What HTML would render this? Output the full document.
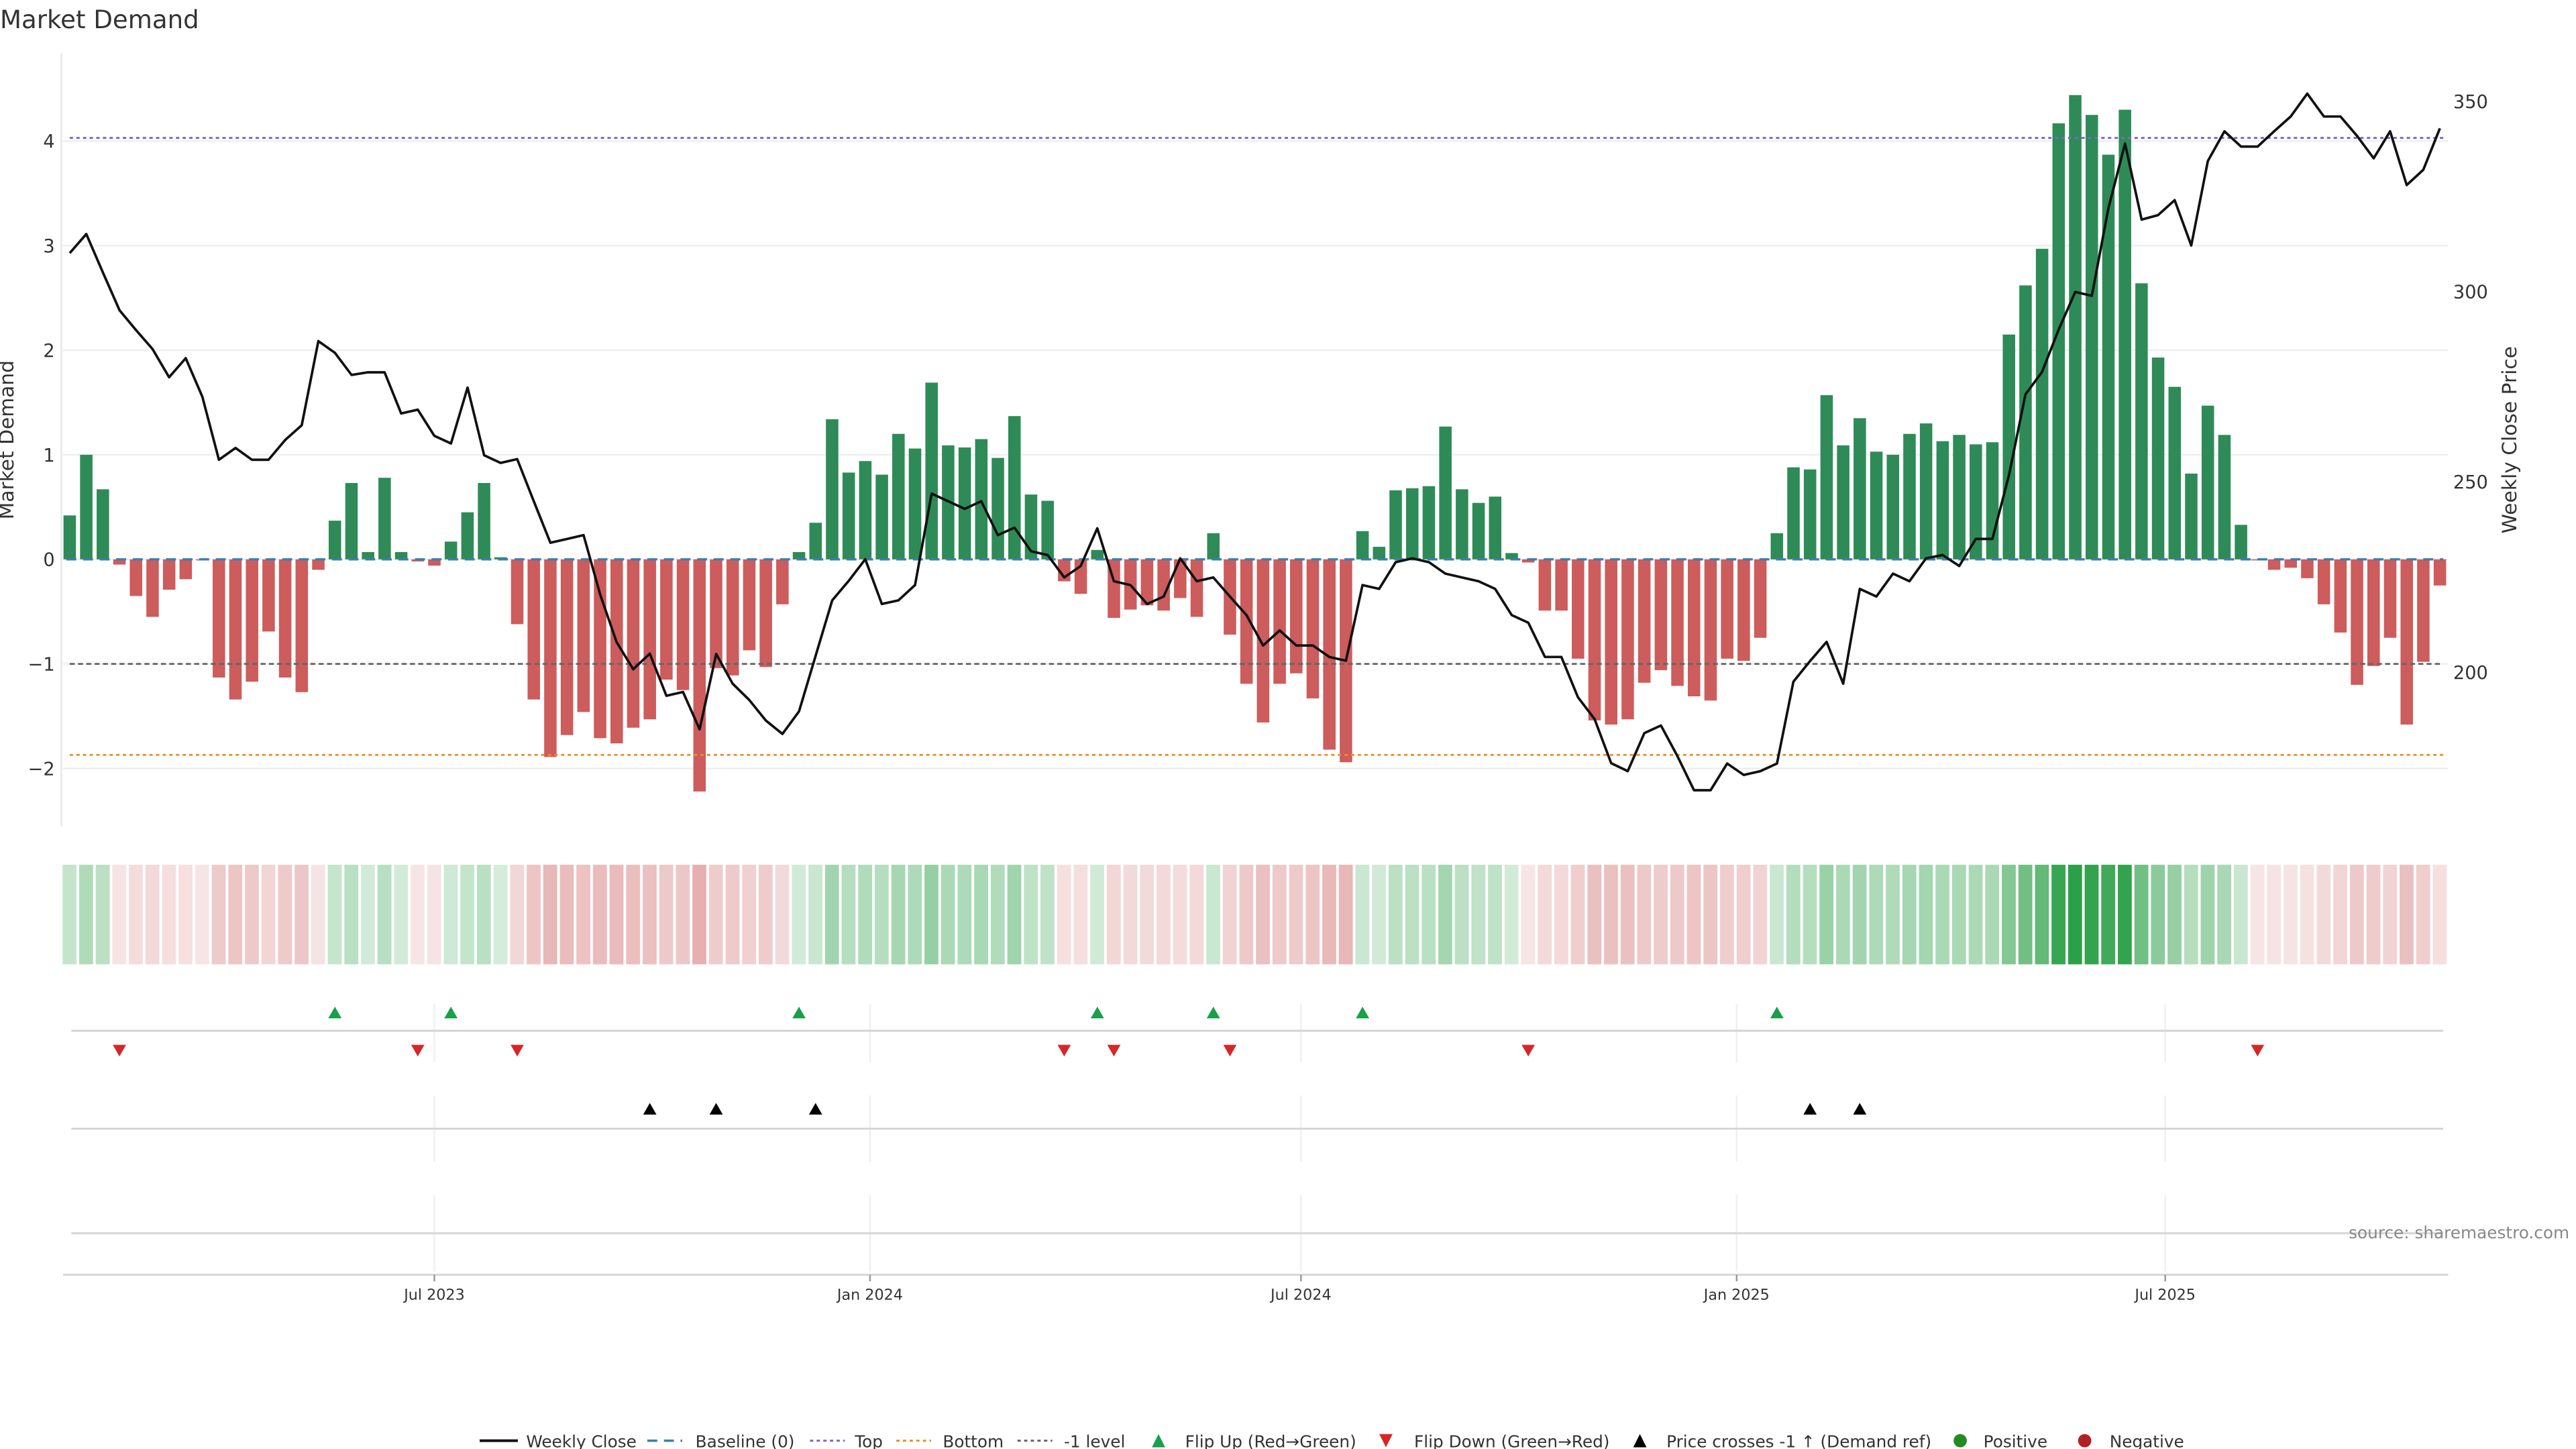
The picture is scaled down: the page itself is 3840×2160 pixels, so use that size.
<!DOCTYPE html>
<html><head><meta charset="utf-8"><style>
html,body{margin:0;padding:0;background:#fff;}
svg{display:block;font-family:"DejaVu Sans","Liberation Sans",sans-serif;}
</style></head><body>
<svg id="chart" xmlns="http://www.w3.org/2000/svg" width="3840" height="2160" viewBox="0 0 1552 873" preserveAspectRatio="none">
<rect x="0" y="0" width="1552" height="873" fill="#fff"/>
<text x="0" y="17" font-size="15" fill="#333">Market Demand</text>
<g id="grid"></g>
<g id="bars"></g>
<g id="lines"></g>
<g id="heat"></g>
<g id="markers"></g>
<g id="axes"></g>
<text x="8" y="265" font-size="12" fill="#333" text-anchor="middle" transform="rotate(-90 8 265)">Market Demand</text>
<text x="1516" y="265" font-size="12" fill="#333" text-anchor="middle" transform="rotate(-90 1516 265)">Weekly Close Price</text>
<text x="1548" y="746" font-size="10" fill="#888" text-anchor="end">source: sharemaestro.com</text>
<g id="legend"></g>
</svg>
<script>
const demand = [0.42,1.0,0.67,-0.05,-0.35,-0.55,-0.29,-0.19,-0.01,-1.13,-1.34,-1.17,-0.69,-1.13,-1.27,-0.1,0.37,0.73,0.07,0.78,0.07,-0.02,-0.06,0.17,0.45,0.73,0.02,-0.62,-1.34,-1.89,-1.68,-1.46,-1.71,-1.76,-1.61,-1.53,-1.15,-1.25,-2.22,-1.04,-1.11,-0.87,-1.03,-0.43,0.07,0.35,1.34,0.83,0.94,0.81,1.2,1.06,1.69,1.09,1.07,1.15,0.97,1.37,0.62,0.56,-0.21,-0.33,0.09,-0.56,-0.48,-0.44,-0.49,-0.37,-0.55,0.25,-0.72,-1.19,-1.56,-1.19,-1.09,-1.33,-1.82,-1.94,0.27,0.12,0.66,0.68,0.70,1.27,0.67,0.54,0.60,0.06,-0.03,-0.49,-0.49,-0.95,-1.54,-1.58,-1.53,-1.18,-1.06,-1.21,-1.31,-1.35,-0.95,-0.97,-0.75,0.25,0.88,0.86,1.57,1.09,1.35,1.03,1.0,1.2,1.30,1.13,1.19,1.10,1.12,2.15,2.62,2.97,4.17,4.44,4.25,3.87,4.30,2.64,1.93,1.65,0.82,1.47,1.19,0.33,-0.01,-0.1,-0.08,-0.18,-0.43,-0.70,-1.2,-1.02,-0.75,-1.58,-0.98,-0.25];
const price = [310.1,315.1,305,295.1,289.9,284.9,277.5,282.5,272.4,255.8,258.9,255.8,255.8,261,264.9,287,283.9,278.1,278.8,278.8,268,269,262.1,260.1,274.8,257,255,256,244.9,234,235,236,220.4,207.9,200.8,204.9,193.8,194.8,185,204.8,197,192.7,187.3,183.8,189.7,204.3,218.9,224,229.7,217.9,218.9,222.9,246.9,244.9,242.9,244.9,236,238,231.8,230.8,224.9,227.9,237.8,223.9,222.9,217.9,219.9,229.9,223.9,224.9,219.9,215,207,211,207,207,204,203,222.9,221.9,228.9,229.9,228.9,225.9,224.9,223.9,221.9,215,213,204,204,193.4,187.7,176.1,174,184,186,178,169,169,176,173,174,176,197.5,202.9,208,197,221.9,219.9,225.9,223.9,229.9,230.8,227.9,235,235,251.8,273,278.9,290,299.9,298.9,321.9,338.9,318.9,320.1,324,312.1,334.3,342.1,338.1,338.1,342.1,346,352,346,346,340.9,335,342.1,328,332,342.9];
const crossIdx = [35,39,45,105,108];
const leftTicks = [-2,-1,0,1,2,3,4];
const rightTicks = [200,250,300,350];
const levels = [4.03,-1.87,-1];
const dateTicks = ["2023-07-01","2024-01-01","2024-07-01","2025-01-01","2025-07-01"];
const dateLabels = ["Jul 2023","Jan 2024","Jul 2024","Jan 2025","Jul 2025"];
const startDate = "2023-01-28";

const NS="http://www.w3.org/2000/svg";
function mk(tag,attrs,parent){const e=document.createElementNS(NS,tag);for(const k in attrs)e.setAttribute(k,attrs[k]);parent.appendChild(e);return e;}
const X0=42, STEP=(1470-42)/143, BW=7.5;
const xi=i=>X0+i*STEP;
const yL=v=>337-v*63;
const yR=p=>405-(p-200)*(344/150);
const start=new Date(startDate+"T00:00:00Z").getTime();
const xd=d=>xi((new Date(d+"T00:00:00Z").getTime()-start)/(7*864e5));

const grid=document.getElementById('grid');
leftTicks.forEach(t=>{
  const l=mk('line',{x1:38,x2:1475,y1:yL(t),y2:yL(t),stroke:'#eeeeee','stroke-width':1},grid);
  
  
});
const axes=document.getElementById('axes');
mk('line',{x1:37,x2:37,y1:32,y2:498,stroke:'#e6e6e6','stroke-width':1},axes);
leftTicks.forEach(t=>{
  const tx=mk('text',{x:33,y:yL(t)+4,'font-size':11,fill:'#333','text-anchor':'end'},axes);
  tx.textContent=(t<0?'\u2212'+Math.abs(t):String(t));
  
  
});
rightTicks.forEach(t=>{
  const tx=mk('text',{x:1478,y:yR(t)+4,'font-size':11,fill:'#333'},axes);
  tx.textContent=String(t);
  
  
});

const bars=document.getElementById('bars');
demand.forEach((v,i)=>{
  const y=Math.min(yL(v),yL(0)), h=Math.abs(yL(v)-yL(0));
  const r=mk('rect',{x:xi(i)-BW/2,y:y,width:BW,height:Math.max(h,0.6),fill:v>=0?'#2e8b57':'#cd5c5c'},bars);
  
  
});
const lines=document.getElementById('lines');
const lvColors=['#7b68c8','#e8902a','#666'];
const lvNames=['top-line','bottom-line','minus-one-line'];
levels.forEach((v,k)=>{
  const l=mk('line',{x1:42,x2:1472,y1:yL(v),y2:yL(v),stroke:lvColors[k],'stroke-width':1.2,'stroke-dasharray':k==2?'3,2':'2,2'},lines);
  
  
});
const bl=mk('line',{x1:40,x2:1472,y1:yL(0),y2:yL(0),stroke:'#3a7fb0','stroke-width':1.4,'stroke-dasharray':'6,4'},lines);


const pl=mk('polyline',{points:price.map((p,i)=>xi(i).toFixed(1)+','+yR(p).toFixed(1)).join(' '),fill:'none',stroke:'#111','stroke-width':1.5,'stroke-linejoin':'round'},lines);



const heat=document.getElementById('heat');
demand.forEach((v,i)=>{
  const a=Math.min(1,0.2+0.8*Math.abs(v)/4.44);
  const r=mk('rect',{x:xi(i)-4.3,y:521,width:8.4,height:60,fill:v>=0?'#2ca048':'#c85050','fill-opacity':(v>=0?a:a*0.75).toFixed(2)},heat);
  
  
});

const mg=document.getElementById('markers');
[[605,640],[660,700],[720,766]].forEach(([a,b])=>{
  dateTicks.forEach(d=>{mk('line',{x1:xd(d),x2:xd(d),y1:a,y2:b,stroke:'#f0f0f0','stroke-width':1},mg);});
});
[621,680,743].forEach(y=>{
  const l=mk('line',{x1:43,x2:1472,y1:y,y2:y,stroke:'#d6d6d6','stroke-width':1.2},mg);
  
  
});
const axl=mk('line',{x1:38,x2:1475,y1:768,y2:768,stroke:'#d6d6d6','stroke-width':1.2},mg);


dateTicks.forEach((d,k)=>{
  const x=xd(d);
  mk('line',{x1:x,x2:x,y1:768,y2:772,stroke:'#999','stroke-width':1},mg);
  const t=mk('text',{x:x,y:783,'font-size':9,fill:'#333','text-anchor':'middle'},mg);
  t.textContent=dateLabels[k];
  
  
});
function tri(x,y,up,color,name){
  const p=up?`${x-4},${y+3.5} ${x+4},${y+3.5} ${x},${y-3.5}`:`${x-4},${y-3.5} ${x+4},${y-3.5} ${x},${y+3.5}`;
  const e=mk('polygon',{points:p,fill:color},mg);
  
  
}
for(let i=1;i<demand.length;i++){
  if(demand[i-1]<0&&demand[i]>=0) tri(xi(i),610,true,'#18a04a','flip-up-marker');
  if(demand[i-1]>=0&&demand[i]<0) tri(xi(i),633,false,'#d62728','flip-down-marker');
}
crossIdx.forEach(i=>tri(xi(i),668,true,'#000','price-cross-marker'));

const lg=document.getElementById('legend');
const LY=868;
function ltext(x,s){const t=mk('text',{x:x,y:LY+4,'font-size':10,fill:'#333'},lg);t.textContent=s;}
mk('line',{x1:289,x2:312,y1:LY,y2:LY,stroke:'#111','stroke-width':1.6},lg);
ltext(317,'Weekly Close');
mk('line',{x1:390,x2:411,y1:LY,y2:LY,stroke:'#3a7fb0','stroke-width':1.4,'stroke-dasharray':'6,4'},lg);
ltext(419,'Baseline (0)');
mk('line',{x1:488,x2:509,y1:LY,y2:LY,stroke:'#7b68c8','stroke-width':1.2,'stroke-dasharray':'2,2'},lg);
ltext(515,'Top');
mk('line',{x1:540,x2:561,y1:LY,y2:LY,stroke:'#e8902a','stroke-width':1.2,'stroke-dasharray':'2,2'},lg);
ltext(568,'Bottom');
mk('line',{x1:613,x2:634,y1:LY,y2:LY,stroke:'#666','stroke-width':1.2,'stroke-dasharray':'2,2'},lg);
ltext(641,'-1 level');
mk('polygon',{points:`694,${LY+4} 702,${LY+4} 698,${LY-4}`,fill:'#18a04a'},lg);
ltext(714,'Flip Up (Red\u2192Green)');
mk('polygon',{points:`831,${LY-4} 839,${LY-4} 835,${LY+4}`,fill:'#d62728'},lg);
ltext(852,'Flip Down (Green\u2192Red)');
mk('polygon',{points:`984,${LY+4} 992,${LY+4} 988,${LY-4}`,fill:'#000'},lg);
ltext(1004,'Price crosses -1 \u2191 (Demand ref)');
mk('circle',{cx:1181,cy:LY,r:4,fill:'#228b22'},lg);
ltext(1195,'Positive');
mk('circle',{cx:1256,cy:LY,r:4,fill:'#b22222'},lg);
ltext(1271,'Negative');
</script>
</body></html>
